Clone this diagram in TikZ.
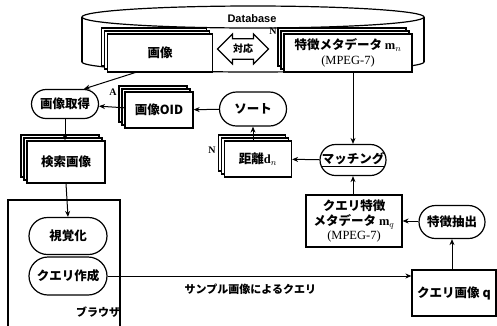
\documentclass[tikz,border=0pt]{standalone}
\usepackage{fontspec}
\setmainfont{Liberation Serif}
\newfontfamily\jpfont{Noto Sans CJK JP}
\newfontfamily\labelfont{Liberation Sans}
\newfontfamily\tmsfont{Liberation Serif}
\usetikzlibrary{arrows.meta,shapes.misc,shapes.arrows,shadows}
\tikzset{
  box/.style={draw,line width=1.2pt,fill=white,align=center,inner sep=2pt,
    font=\jpfont\bfseries\fontsize{12.5}{15}\selectfont},
  stackbox/.style={box,double copy shadow={shadow xshift=-3pt,shadow yshift=3pt}},
  proc/.style={box,rounded rectangle},
  flow/.style={-{Stealth[length=6pt,width=5pt]},line width=1pt},
  tag/.style={font=\tmsfont\bfseries\normalsize}
}

\begin{document}
\begin{tikzpicture}[x=1pt,y=-1pt]
  \useasboundingbox (0,0) rectangle (497,325);
  % database cylinder
  \draw[line width=1.2pt,fill=white] (253,62) ellipse [x radius=171,y radius=10];
  \fill[white] (82,17) rectangle (424,62);
  \draw[line width=1.2pt] (82,17) -- (82,62) (424,17) -- (424,62);
  \draw[line width=1.2pt,fill=white] (253,17) ellipse [x radius=171,y radius=11];
  \node[font=\labelfont\bfseries\fontsize{11}{13}\selectfont] (dbname) at (252,19) {Database};
  \node[stackbox,minimum width=105pt,minimum height=38pt] (img) at (160,53) {画像};
  \node[box,double arrow,double arrow head extend=3pt,minimum height=51pt,
    minimum width=30pt,inner sep=1pt,font=\jpfont\bfseries\fontsize{10}{12}\selectfont] (corr) at (243,49) {対応};
  \node[tag] (nmeta) at (273,31) {N};
  \node[stackbox,minimum width=128pt,minimum height=38pt] (meta) at (348,53)
    {特徴メタデータ $\mathbf{m}_n$\\{\tmsfont\mdseries (MPEG-7)}};
  % retrieval side
  \node[proc,minimum width=71pt,minimum height=29pt] (fetch) at (65,104) {画像取得};
  \node[stackbox,minimum width=68pt,minimum height=36pt] (oid) at (159,110) {画像OID};
  \node[tag] (aoid) at (113,92) {A};
  \node[proc,minimum width=71pt,minimum height=34pt] (sort) at (253,109) {ソート};
  \node[stackbox,minimum width=67pt,minimum height=36pt] (dist) at (258,159) {距離$\mathbf{d}_n$};
  \node[tag] (ndist) at (212,150) {N};
  \node[proc,minimum width=70pt,minimum height=31pt] (match) at (353,160) {\underline{マッチング}};
  \node[stackbox,minimum width=78pt,minimum height=42pt] (found) at (66,162) {検索画像};
  % query side
  \node[box,minimum width=96pt,minimum height=52pt,inner sep=1pt] (qmeta) at (354,221)
    {クエリ特徴\\メタデータ $\mathbf{m}_q$\\[-1pt]{\tmsfont\mdseries (MPEG-7)}};
  \node[proc,minimum width=70pt,minimum height=33pt] (extract) at (452,222) {特徴抽出};
  \node[box,minimum width=84pt,minimum height=46pt] (qimg) at (454,293) {クエリ画像 q};
  % browser
  \draw[line width=1.2pt] (8,335) -- (8,200) -- (120,200) -- (120,335);
  \node[proc,minimum width=82pt,minimum height=37pt] (view) at (68,236) {視覚化};
  \node[proc,minimum width=82pt,minimum height=38pt] (compose) at (68,276) {クエリ作成};
  \node[font=\jpfont\bfseries\fontsize{11}{13}\selectfont] (browser) at (98,312) {ブラウザ};
  % connectors
  \coordinate (dbout) at (137,72);
  \draw[flow] (dbout) -- (fetch.north east);
  \draw[flow] (oid) -- (fetch);
  \draw[flow] (sort) -- (oid);
  \draw[flow] (sort.south |- dist.north) -- (sort.south);
  \draw[flow] (match) -- (dist);
  \draw[flow] (match.north |- meta.south) -- (match.north);
  \draw[flow] (match.south |- qmeta.north) -- (match.south);
  \draw[flow] (extract.west |- qmeta.east) -- (qmeta.east);
  \draw[flow] (extract.south |- qimg.north) -- (extract.south);
  \draw[flow] (fetch.south) -- (fetch.south |- found.north);
  \draw[flow] (found.south) -- (view.north);
  \draw[flow] (compose.east) -- (compose.east -| qimg.west)
    node[pos=0.47,below=4pt,font=\jpfont\bfseries\fontsize{11}{13}\selectfont] (sample) {サンプル画像によるクエリ};
\end{tikzpicture}
\end{document}
